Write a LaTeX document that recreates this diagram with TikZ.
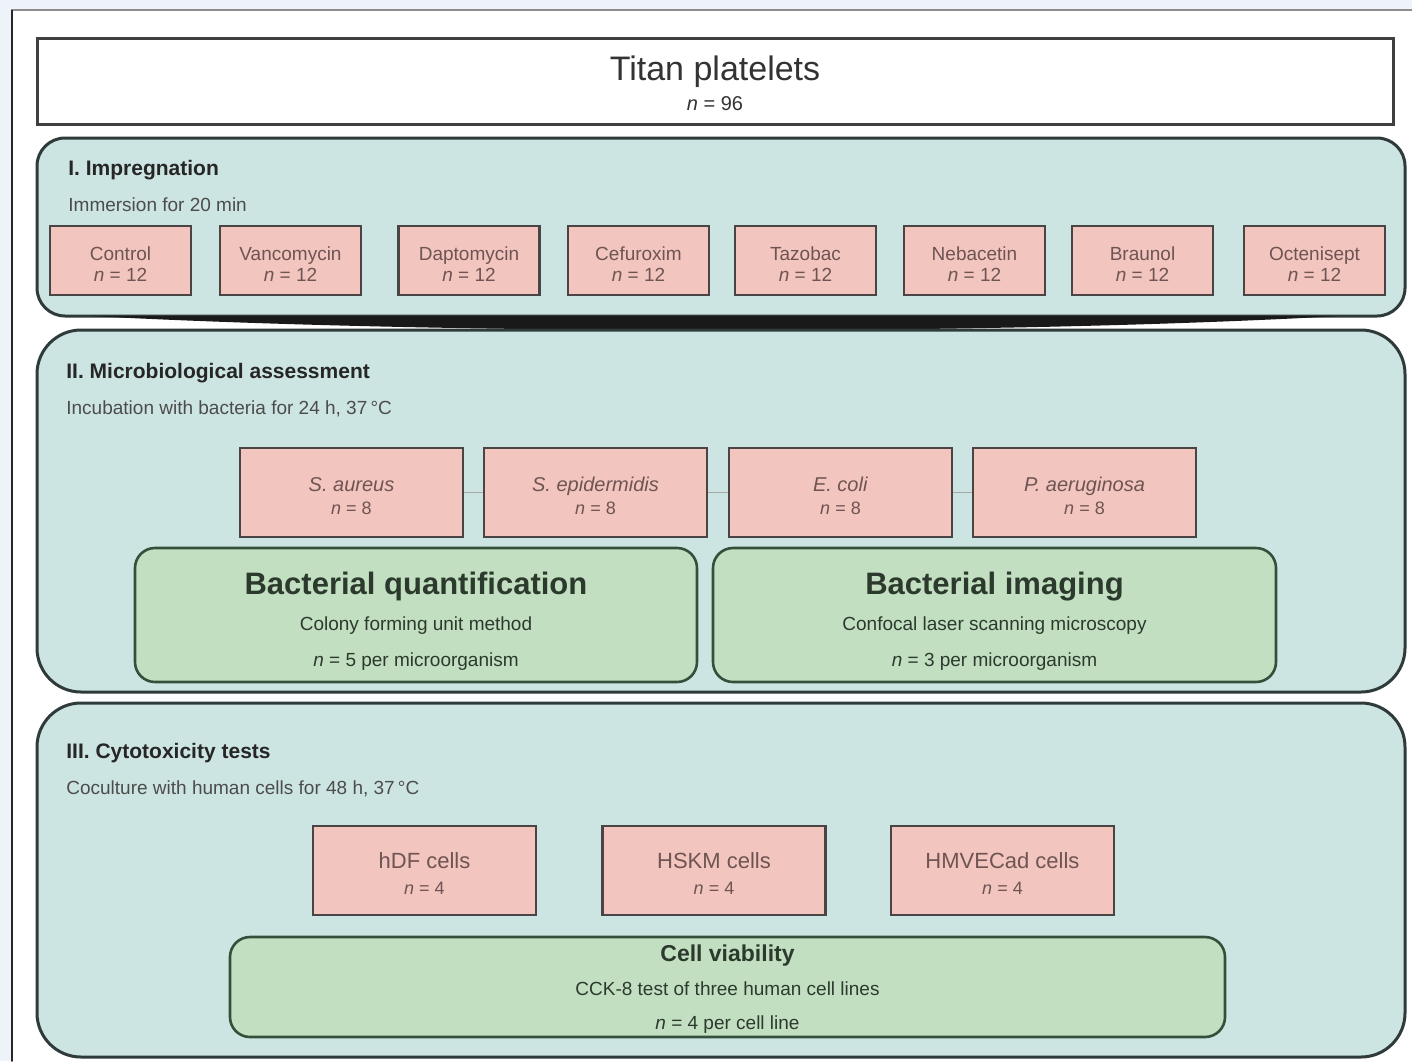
\documentclass[tikz,border=0pt]{standalone}
\usepackage{fontspec}
\setmainfont{Liberation Sans}
\usepackage{tikz}
\usetikzlibrary{positioning}
\usepackage{xcolor}

\definecolor{pagebg}{HTML}{EEF3FA}
\definecolor{panelfill}{HTML}{CDE5E2}
\definecolor{panelline}{HTML}{2E3B3A}
\definecolor{agentfill}{HTML}{F3C5BF}
\definecolor{agentline}{HTML}{4A4444}
\definecolor{agenttext}{HTML}{6E5452}
\definecolor{assayfill}{HTML}{C3DFC1}
\definecolor{assayline}{HTML}{34503A}
\definecolor{assaytext}{HTML}{2C3A2E}

% invisible strut to push a text block down a little
\newcommand\lift[1]{\rule{0pt}{#1}}

\begin{document}
\begin{tikzpicture}[
  x=0.5pt, y=-0.5pt,
  titan/.style={draw=black!75, line width=1.5pt, fill=white,
    minimum width=678pt, minimum height=43pt, align=center, inner sep=0pt,
    font=\fontsize{10}{15}\selectfont, text=black!80},
  panel/.style={draw=panelline, line width=1.5pt, fill=panelfill,
    minimum width=684pt, inner sep=0pt},
  sectitle/.style={anchor=west, inner sep=0pt, text=black!85,
    font=\fontsize{10.5}{12}\selectfont\bfseries},
  secnote/.style={anchor=west, inner sep=0pt, text=black!70,
    font=\fontsize{9.5}{11}\selectfont},
  agent/.style={draw=agentline, line width=1.3pt, fill=agentfill,
    minimum width=70.5pt, minimum height=34.5pt, inner sep=0pt, align=center,
    text=agenttext, font=\fontsize{9.5}{10.5}\selectfont},
  strain/.style={agent, minimum width=111.5pt, minimum height=44.5pt,
    font=\fontsize{10}{11.5}\selectfont},
  cellline/.style={agent, minimum width=111.5pt, minimum height=44.5pt,
    font=\fontsize{11}{13}\selectfont},
  assay/.style={draw=assayline, line width=1.3pt, fill=assayfill,
    rounded corners=10pt, inner sep=0pt, align=center, text=assaytext},
  link/.style={draw=black!35, line width=0.8pt}
]

  \useasboundingbox (0,0) rectangle (1412,1061);
  \clip (0,0) rectangle (1412,1061);

  % Page
  \fill[pagebg] (0,0) rectangle (1412,1061);
  \draw[fill=white, draw=black!45, line width=0.8pt] (12,10) rectangle (1440,1090);
  \draw[black!85, line width=1.4pt] (12,10) -- (12,1061);

  % Platelets
  \node[titan] (titan) at (715,81) {{\fontsize{17}{20}\selectfont\lift{15pt}Titan platelets}\\\textit{n} = 96};

  % I. Impregnation
  \node[panel, rounded corners=14pt, minimum height=89pt] (imp) at (721,227) {};
  \fill[black!90] (90,316) .. controls (450,335) and (1000,335) .. (1340,316) -- cycle;
  \node[sectitle] (imptitle) at (68,170) {I. Impregnation};
  \node[secnote]  (impnote)  at (68,205) {Immersion for 20 min};
  \foreach \cx/\drug [count=\i] in {120.5/Control, 290.5/Vancomycin, 469/Daptomycin,
      638.5/Cefuroxim, 805.5/Tazobac, 974.5/Nebacetin, 1142.5/Braunol, 1314.5/Octenisept} {
    \node[agent] (ag\i) at (\cx,260.5) {\lift{10pt}\drug\\\textit{n} = 12};
  }

  % II. Microbiological assessment
  \node[panel, rounded corners=22pt, minimum height=181pt] (micro) at (721,511) {};
  \node[sectitle] (microtitle) at (66,373) {II. Microbiological assessment};
  \node[secnote]  (micronote)  at (66,409) {Incubation with bacteria for 24 h, 37\,°C};

  \node[strain] (sa) at (351.5,492.5) {\lift{11pt}\textit{S. aureus}\\{\fontsize{9}{11}\selectfont\textit{n} = 8}};
  \node[strain] (se) at (595.5,492.5) {\lift{11pt}\textit{S. epidermidis}\\{\fontsize{9}{11}\selectfont\textit{n} = 8}};
  \node[strain] (ec) at (840.5,492.5) {\lift{11pt}\textit{E. coli}\\{\fontsize{9}{11}\selectfont\textit{n} = 8}};
  \node[strain] (pa) at (1084.5,492.5) {\lift{11pt}\textit{P. aeruginosa}\\{\fontsize{9}{11}\selectfont\textit{n} = 8}};
  \foreach \a/\b in {sa/se, se/ec, ec/pa} {
    \draw[link] (\a) -- (\b);
  }

  \node[assay, minimum width=281pt, minimum height=67pt, font=\fontsize{9.5}{18}\selectfont]
    (quant) at (416,615) {{\fontsize{15.5}{18}\selectfont\bfseries\lift{17.5pt}Bacterial quantification}\\
    Colony forming unit method\\\textit{n} = 5 per microorganism};
  \node[assay, minimum width=281.5pt, minimum height=67pt, font=\fontsize{9.5}{18}\selectfont]
    (imaging) at (994.5,615) {{\fontsize{15.5}{18}\selectfont\bfseries\lift{17.5pt}Bacterial imaging}\\
    Confocal laser scanning microscopy\\\textit{n} = 3 per microorganism};

  % III. Cytotoxicity tests
  \node[panel, rounded corners=22pt, minimum height=177pt] (cyto) at (721,880) {};
  \node[sectitle] (cytotitle) at (66,753) {III. Cytotoxicity tests};
  \node[secnote]  (cytonote)  at (66,789) {Coculture with human cells for 48 h, 37\,°C};

  \node[cellline] (hdf)   at (424.5,870.5)  {\lift{11pt}hDF cells\\{\fontsize{9}{11}\selectfont\textit{n} = 4}};
  \node[cellline] (hskm)  at (714,870.5)    {\lift{11pt}HSKM cells\\{\fontsize{9}{11}\selectfont\textit{n} = 4}};
  \node[cellline] (hmvec) at (1002.5,870.5) {\lift{11pt}HMVECad cells\\{\fontsize{9}{11}\selectfont\textit{n} = 4}};

  \node[assay, minimum width=497.5pt, minimum height=50pt, font=\fontsize{9.5}{17}\selectfont]
    (viab) at (727.5,987) {{\fontsize{11.5}{17}\selectfont\bfseries\lift{10pt}Cell viability}\\
    CCK-8 test of three human cell lines\\\textit{n} = 4 per cell line};

\end{tikzpicture}
\end{document}
